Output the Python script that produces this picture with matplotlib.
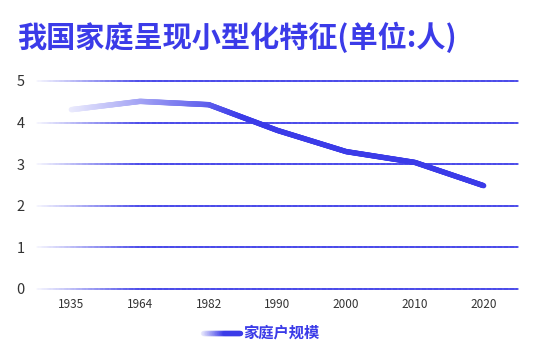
import matplotlib.pyplot as plt
import numpy as np
from matplotlib.collections import LineCollection
from matplotlib.colors import to_rgba

plt.rcParams['font.family'] = ['Noto Sans CJK SC', 'DejaVu Sans']

# data
years = ["1935", "1964", "1982", "1990", "2000", "2010", "2020"]
household_size = [4.31, 4.51, 4.43, 3.81, 3.30, 3.04, 2.48]
y_ticks = [0, 1, 2, 3, 4, 5]

blue = "#3b3be8"
W, H = 538, 356

fig = plt.figure(figsize=(W / 100, H / 100), dpi=100)
ax = fig.add_axes([37 / W, (H - 288.7) / H, (518 - 37) / W, (288.7 - 81) / H])
ax.set_xlim(-0.5, len(years) - 0.5)
ax.set_ylim(0, 5)

base = np.array(to_rgba(blue))
white = np.array([1.0, 1.0, 1.0, 1.0])


def fade_colors(t, a0, a1):
    a = (a0 + (a1 - a0) * t)[:, None]
    return white * (1 - a) + base * a


def gradient_line(x, y, a0, a1, x_full, lw, transform=None, n=400):
    # split the polyline into short pieces so the colour can fade left to right
    xs = np.linspace(x[0], x[-1], n)
    ys = np.interp(xs, x, y)
    pts = np.column_stack([xs, ys]).reshape(-1, 1, 2)
    segs = np.concatenate([pts[:-1], pts[1:]], axis=1)
    t = np.clip((xs[:-1] - x[0]) / (x_full - x[0]), 0, 1)
    lc = LineCollection(segs, colors=fade_colors(t, a0, a1), linewidths=lw,
                        capstyle="round", joinstyle="round", clip_on=False)
    if transform is not None:
        lc.set_transform(transform)
    return lc


# gridlines
for v in y_ticks:
    ax.add_collection(gradient_line([-0.5, len(years) - 0.5], [v, v], 0.05, 1.0, 1.0, 1.1))

# main line
xpos = np.arange(len(years))
ax.add_collection(gradient_line(xpos, household_size, 0.1, 1.0, 2.5, 3.9))

for s in ax.spines.values():
    s.set_visible(False)
ax.set_xticks(xpos)
ax.set_xticklabels(years)
ax.set_yticks(y_ticks)
ax.tick_params(axis="x", length=0, pad=7, labelsize=8.5, labelcolor="#333333")
ax.tick_params(axis="y", length=0, pad=9, labelsize=10.5, labelcolor="#333333")

fig.text(17 / W, 1 - 37 / H, "我国家庭呈现小型化特征(单位:人)", fontsize=21,
         fontweight="bold", color=blue, va="center", ha="left")

# legend
leg = gradient_line(np.array([203, 240]) / W, np.array([1 - 333 / H] * 2), 0.1, 1.0,
                    225 / W, 3.9, transform=fig.transFigure, n=60)
fig.add_artist(leg)
fig.text(243 / W, 1 - 333 / H, "家庭户规模", fontsize=11, fontweight="bold",
         color=blue, va="center", ha="left")

fig.savefig("out.png", dpi=100)
